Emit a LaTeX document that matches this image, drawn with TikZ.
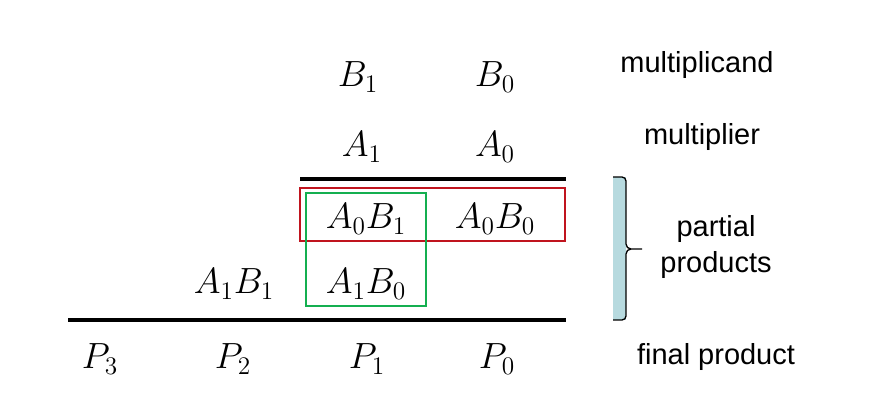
\documentclass[tikz,border=0pt]{standalone}
\usepackage{fontspec}
\setsansfont{Liberation Sans}
\definecolor{boxred}{RGB}{192,20,30}
\definecolor{boxgreen}{RGB}{20,175,80}
\definecolor{bracefill}{RGB}{183,218,223}
\begin{document}
\begin{tikzpicture}[x=0.02cm,y=-0.02cm,
  term/.style={font=\fontsize{20.5}{24}\selectfont,inner sep=0pt},
  note/.style={font=\sffamily\fontsize{16.5}{20.5}\selectfont,align=center,inner sep=0pt},
  rule/.style={line width=2pt}]
  \useasboundingbox (0,0) rectangle (879,418);
  % operands
  \node[term] (b1) at (358,77) {$B_1$};
  \node[term] (b0) at (495,77) {$B_0$};
  \node[term] (a1) at (362,147) {$A_1$};
  \node[term] (a0) at (495,147) {$A_0$};
  \coordinate (r1l) at (300,179);
  \coordinate (r1r) at (566,179);
  \draw[rule] (r1l) -- (r1r);
  % partial products
  \node[term] (a0b1) at (366,219) {$A_0B_1$};
  \node[term] (a0b0) at (495,219) {$A_0B_0$};
  \node[term] (a1b1) at (234,284) {$A_1B_1$};
  \node[term] (a1b0) at (366,284) {$A_1B_0$};
  \draw[boxred,line width=1.2pt] (300,188) rectangle (565,241);
  \draw[boxgreen,line width=1.2pt] (306,193) rectangle (426,306);
  \coordinate (r2l) at (68,320);
  \coordinate (r2r) at (566,320);
  \draw[rule] (r2l) -- (r2r);
  % result
  \node[term] (p3) at (100,359) {$P_3$};
  \node[term] (p2) at (233,359) {$P_2$};
  \node[term] (p1) at (367,359) {$P_1$};
  \node[term] (p0) at (497,359) {$P_0$};
  % brace
  \fill[bracefill] (613,177) rectangle (626,320);
  \draw[line width=0.75pt] (613,177) -- (622,177) to[out=0,in=90] (626,181) -- (626,244)
    to[out=-90,in=180] (631,249) -- (642,249);
  \draw[line width=0.75pt] (631,249) to[out=180,in=90] (626,254) -- (626,316)
    to[out=-90,in=0] (622,320) -- (613,320);
  % labels
  \node[note] (lmc) at (697,65) {multiplicand};
  \node[note] (lmr) at (702,137) {multiplier};
  \node[note] (lpp) at (716,247) {partial\\products};
  \node[note] (lfp) at (716,357) {final product};
\end{tikzpicture}
\end{document}
